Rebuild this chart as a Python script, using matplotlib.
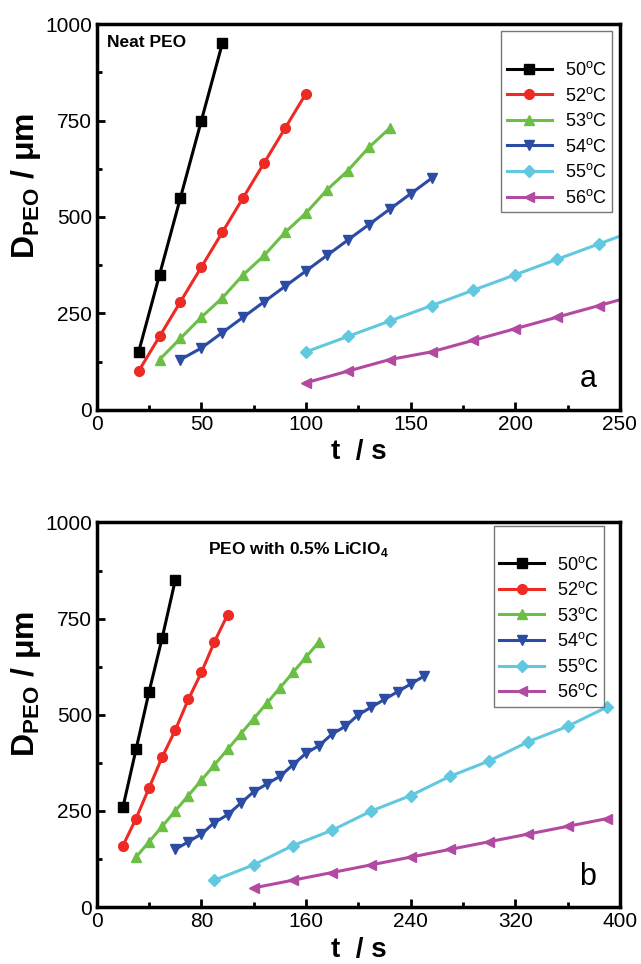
import matplotlib
matplotlib.use("Agg")
import matplotlib.pyplot as plt

plt.rcParams['font.family'] = ['Liberation Sans', 'DejaVu Sans']
plt.rcParams['mathtext.fontset'] = 'custom'
plt.rcParams['mathtext.rm'] = 'Liberation Sans'
plt.rcParams['mathtext.bf'] = 'Liberation Sans:bold'

labels = ["50$^{\\rm o}$C", "52$^{\\rm o}$C", "53$^{\\rm o}$C", "54$^{\\rm o}$C", "55$^{\\rm o}$C", "56$^{\\rm o}$C"]
colors = ["#000000", "#ee2a24", "#6cbf45", "#2c4ca3", "#62c8e0", "#b24aa2"]
markers = ["s", "o", "^", "v", "D", "<"]

# panel a: neat PEO
a_t50 = [20, 30, 40, 50, 60]
a_d50 = [150, 350, 550, 750, 950]
a_t52 = [20, 30, 40, 50, 60, 70, 80, 90, 100]
a_d52 = [100, 190, 280, 370, 460, 550, 640, 730, 820]
a_t53 = [30, 40, 50, 60, 70, 80, 90, 100, 110, 120, 130, 140]
a_d53 = [130, 185, 240, 290, 350, 400, 460, 510, 570, 620, 680, 730]
a_t54 = [40, 50, 60, 70, 80, 90, 100, 110, 120, 130, 140, 150, 160]
a_d54 = [130, 160, 200, 240, 280, 320, 360, 400, 440, 480, 520, 560, 600]
a_t55 = [100, 120, 140, 160, 180, 200, 220, 240, 260]
a_d55 = [150, 190, 230, 270, 310, 350, 390, 430, 470]
a_t56 = [100, 120, 140, 160, 180, 200, 220, 240, 260]
a_d56 = [70, 100, 130, 150, 180, 210, 240, 270, 300]

# panel b: PEO with 0.5% LiClO4
b_t50 = [20, 30, 40, 50, 60]
b_d50 = [260, 410, 560, 700, 850]
b_t52 = [20, 30, 40, 50, 60, 70, 80, 90, 100]
b_d52 = [160, 230, 310, 390, 460, 540, 610, 690, 760]
b_t53 = [30, 40, 50, 60, 70, 80, 90, 100, 110, 120, 130, 140, 150, 160, 170]
b_d53 = [130, 170, 210, 250, 290, 330, 370, 410, 450, 490, 530, 570, 610, 650, 690]
b_t54 = [60, 70, 80, 90, 100, 110, 120, 130, 140, 150, 160, 170, 180, 190, 200, 210, 220, 230, 240, 250]
b_d54 = [150, 170, 190, 220, 240, 270, 300, 320, 340, 370, 400, 420, 450, 470, 500, 520, 540, 560, 580, 600]
b_t55 = [90, 120, 150, 180, 210, 240, 270, 300, 330, 360, 390]
b_d55 = [70, 110, 160, 200, 250, 290, 340, 380, 430, 470, 520]
b_t56 = [120, 150, 180, 210, 240, 270, 300, 330, 360, 390]
b_d56 = [50, 70, 90, 110, 130, 150, 170, 190, 210, 230]

panel_a = [(a_t50, a_d50), (a_t52, a_d52), (a_t53, a_d53), (a_t54, a_d54), (a_t55, a_d55), (a_t56, a_d56)]
panel_b = [(b_t50, b_d50), (b_t52, b_d52), (b_t53, b_d53), (b_t54, b_d54), (b_t55, b_d55), (b_t56, b_d56)]

fig = plt.figure(figsize=(6.41, 9.64), dpi=100)
ax1 = fig.add_axes([0.151, 0.575, 0.816, 0.400])
ax2 = fig.add_axes([0.151, 0.059, 0.816, 0.399])


def draw(ax, data, xmax, xmajor, xminor, title, title_xy, letter, leg_anchor):
    for (t, d), c, m, lab in zip(data, colors, markers, labels):
        ms = 6 if m == "D" else 7
        ax.plot(t, d, color=c, marker=m, markersize=ms, linewidth=2.2, label=lab)
    ax.set_xlim(0, xmax)
    ax.set_ylim(0, 1000)
    ax.set_xticks(range(0, xmax + 1, xmajor))
    ax.set_xticks(range(0, xmax + 1, xminor), minor=True)
    ax.set_yticks([0, 250, 500, 750, 1000])
    ax.set_yticks(range(0, 1001, 125), minor=True)
    ax.tick_params(which='both', direction='in', width=2, labelsize=15)
    ax.tick_params(which='major', length=6)
    ax.tick_params(which='minor', length=3.5)
    for s in ax.spines.values():
        s.set_linewidth(2.5)
    ax.set_xlabel("t  / s", fontsize=20, fontweight='bold', labelpad=4)
    ax.set_ylabel("D$_{\\mathbf{PEO}}$ / \u03bcm", fontsize=23, fontweight='bold', labelpad=4)
    ax.yaxis.set_label_coords(-0.103, 0.58)
    ax.text(title_xy[0], title_xy[1], title, transform=ax.transAxes, fontsize=12.5,
            fontweight='bold', va='top', ha='left')
    ax.text(0.955, 0.04, letter, transform=ax.transAxes, fontsize=22, ha='right', va='bottom')
    leg = ax.legend(loc='upper right', bbox_to_anchor=leg_anchor, fontsize=13,
                    title=" ", title_fontsize=13,
                    fancybox=False, edgecolor='#555555', handlelength=2.5,
                    borderpad=0.3, labelspacing=0.42, handletextpad=0.7,
                    borderaxespad=0)
    leg.get_frame().set_linewidth(1)


draw(ax1, panel_a, 250, 50, 25, "Neat PEO", (0.02, 0.972), "a", (0.985, 0.982))
draw(ax2, panel_b, 400, 80, 40, "PEO with 0.5% LiClO$_\\mathbf{4}$", (0.212, 0.955), "b", (0.97, 0.992))

fig.savefig("out.png", dpi=100)
